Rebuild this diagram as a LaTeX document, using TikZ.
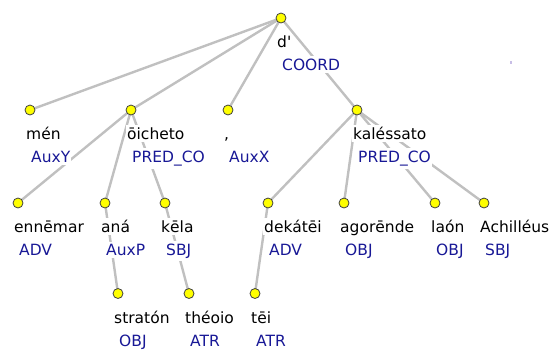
\documentclass[tikz,border=0pt]{standalone}
\usepackage{fontspec}
\setmainfont{DejaVu Sans}[Ligatures=TeXOff]
\definecolor{edgegray}{RGB}{192,192,192}
\definecolor{funcblue}{RGB}{24,24,150}
\definecolor{nodeyellow}{RGB}{255,255,0}
\definecolor{specklecol}{RGB}{200,190,230}
\begin{document}
\begin{tikzpicture}[x=1pt,y=-1pt,
  tnode/.style={circle,draw=black!75,fill=nodeyellow,line width=0.8pt,minimum size=10pt,inner sep=0pt},
  edge/.style={draw=edgegray,line width=2.4pt},
  word/.style={anchor=base west,fill=white,inner xsep=1pt,inner ysep=2.6pt,
    font=\fontsize{15.5}{18}\selectfont,text=black},
  func/.style={word,text=funcblue}]
\useasboundingbox (0,0) rectangle (552,349);

% node positions
\coordinate (dd)   at (281,18);
\coordinate (men)  at (30,110);
\coordinate (oic)  at (131,110);
\coordinate (com)  at (228,110);
\coordinate (kal)  at (357,110);
\coordinate (enn)  at (18,203);
\coordinate (ana)  at (105,203);
\coordinate (kel)  at (165,203);
\coordinate (dek)  at (268,203);
\coordinate (ago)  at (344,203);
\coordinate (lao)  at (435,203);
\coordinate (ach)  at (484,203);
\coordinate (str)  at (118,293.5);
\coordinate (the)  at (189,293.5);
\coordinate (tei)  at (255,293.5);

% dependency edges
\draw[edge] (dd) -- (men);
\draw[edge] (dd) -- (oic);
\draw[edge] (dd) -- (com);
\draw[edge] (dd) -- (kal);
\draw[edge] (oic) -- (enn);
\draw[edge] (oic) -- (ana);
\draw[edge] (oic) -- (kel);
\draw[edge] (kal) -- (dek);
\draw[edge] (kal) -- (ago);
\draw[edge] (kal) -- (lao);
\draw[edge] (kal) -- (ach);
\draw[edge] (ana) -- (str);
\draw[edge] (kel) -- (the);
\draw[edge] (dek) -- (tei);

% word form and function label under each node
\foreach \n/\w/\f in {dd/d'/COORD, men/mén/AuxY, oic/ōicheto/PRED\_CO, com/{,}/AuxX,
    kal/kaléssato/PRED\_CO, enn/ennēmar/ADV, ana/aná/AuxP, kel/kēla/SBJ,
    dek/dekátēi/ADV, ago/agorēnde/OBJ, lao/laón/OBJ, ach/Achilléus/SBJ}{
  \node[word] (\n-w) at ([shift={(-5,29.5)}]\n) {\w};
  \node[func] (\n-f) at ([shift={(0,52.5)}]\n) {\f};
}
% bottom row: labels kept inside the lower edge
\foreach \n/\w/\f in {str/stratón/OBJ, the/théoio/ATR, tei/tēi/ATR}{
  \node[word] (\n-w) at ([shift={(-5,29.5)}]\n) {\w};
  \node[func,inner ysep=0pt] (\n-f) at ([shift={(0,52.5)}]\n) {\f};
}

% node circles
\foreach \n in {dd,men,oic,com,kal,enn,ana,kel,dek,ago,lao,ach,str,the,tei}
  \node[tnode] (\n-c) at (\n) {};

% faint speck
\fill[specklecol] (509.5,60.5) rectangle (511.5,63.5);
\end{tikzpicture}
\end{document}
